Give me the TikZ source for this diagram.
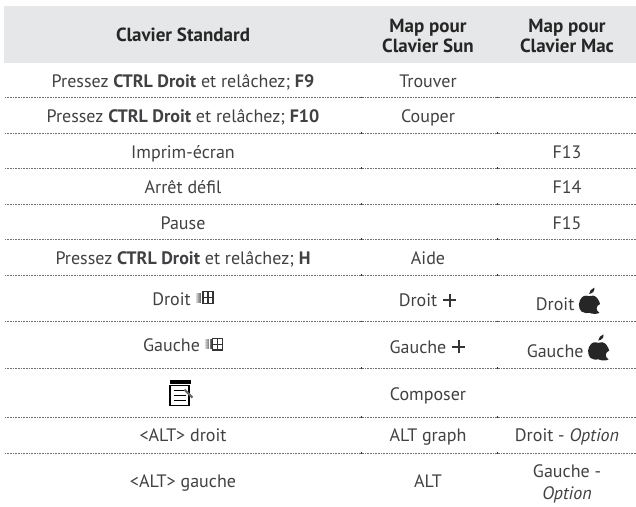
\documentclass[tikz,border=0pt]{standalone}
\usepackage{fontspec}
\setmainfont{PT Sans}
\definecolor{txt}{HTML}{414042}
\definecolor{hdr}{HTML}{E6E7E8}
\definecolor{rule}{HTML}{6D6E71}
\tikzset{
  x=1pt,y=-1pt,
  cell/.style={font=\fontsize{18}{22}\selectfont,text=txt,inner sep=0pt,align=center},
  line/.style={cell,anchor=base},
  head/.style={font=\fontsize{19}{20.6}\selectfont\bfseries,text=black!85,inner sep=0pt,align=center},
  rowline/.style={draw=rule,line width=0.8pt,dash pattern=on 0.9pt off 0.7pt},
  band/.style={fill=hdr,draw=none},
  tick/.style={fill=black!80,draw=none}
}
\newcommand{\winkey}{\tikz[x=1pt,y=1pt,baseline=-1pt]{\foreach \i/\c in {0/15,1.2/25,2.4/35,3.6/45,4.8/55,6/70}{\fill[black!\c] (\i,1.5) rectangle ++(1.1,10);}\draw[black!80,line width=1.2pt] (7.5,0.7) rectangle (17.5,12.5) (12.5,0.7)--(12.5,12.5) (7.5,6.6)--(17.5,6.6);}}
\newcommand{\plussign}{\tikz[x=1pt,y=1pt,baseline=0pt]{\draw[txt!80!black,line width=2.2pt] (0,6.5) -- (13,6.5) (6.5,0) -- (6.5,13);}}
\newcommand{\applekey}{\tikz[x=1.3pt,y=1.25pt,baseline=2pt]{\fill[black!85] (8,0) .. controls (6,-1) and (5,0) .. (4,0.2) .. controls (1,0) and (-1,6) .. (1,10) .. controls (3,14) and (5,14) .. (8,13.2) .. controls (10,14) and (12,14) .. (14,12) .. controls (15.5,10.5) and (16,8) .. (16.5,7) .. controls (13,5.5) and (13,1.5) .. (16,0) .. controls (14,-1.5) and (10,-1) .. (8,0) -- cycle;\fill[black!85] (8,15) .. controls (8,17.5) and (10,19) .. (12,20) .. controls (12.5,17.5) and (11,15.5) .. (8,15) -- cycle;}}
\begin{document}
\begin{tikzpicture}
\useasboundingbox (0,0) rectangle (636,506);
\path[band] (4,6) rectangle (636,62.5);
\node[head,anchor=base] (h1) at (183,41.7) {Clavier Standard};
\node[head] (h2) at (428,36) {Map pour\\Clavier Sun};
\node[head] (h3) at (567,36) {Map pour\\Clavier Mac};
\foreach \yy in {97.5,133,168,204,239,275,321.7,368,417,453}{
  \path[rowline] (5,\yy) -- (636,\yy);
  \path[tick] (360.8,\yy-0.6) rectangle ++(1.4,1.2);
  \path[tick] (496.8,\yy-0.6) rectangle ++(1.4,1.2);
}
\node[line] (a1) at (183,87.3) {Pressez \textbf{CTRL Droit} et relâchez; \textbf{F9}};
\node[line] (b1) at (428,87.3) {Trouver};
\node[line] (a2) at (183,122.5) {Pressez \textbf{CTRL Droit} et relâchez; \textbf{F10}};
\node[line] (b2) at (428,122.5) {Couper};
\node[line] (a3) at (183,158) {Imprim-écran};
\node[line] (c3) at (567,158) {F13};
\node[line] (a4) at (183,193.5) {Arrêt défil};
\node[line] (c4) at (567,193.5) {F14};
\node[line] (a5) at (183,229) {Pause};
\node[line] (c5) at (567,229) {F15};
\node[line] (a6) at (183,264) {Pressez \textbf{CTRL Droit} et relâchez; \textbf{H}};
\node[line] (b6) at (428,264) {Aide};
\node[line] (a7) at (183,305) {Droit \winkey};
\node[line] (b7) at (428,306.7) {Droit \plussign};
\node[line] (c7) at (568,310.7) {Droit\,\applekey};
\node[line] (a8) at (183,351.7) {Gauche \winkey};
\node[line] (b8) at (428,353.3) {Gauche \plussign};
\node[line] (c8) at (568,357.3) {Gauche\,\applekey};
\node[inner sep=0pt] (a9) at (181.5,393) {\tikz[x=1pt,y=-1pt]{\fill[black] (0,0) rectangle (21,4);\draw[black,line width=1.5pt] (0.7,6) rectangle (19.5,26);\draw[black,line width=1.2pt] (4,10.5) -- (15,10.5) (4,15.5) -- (16,15.5) (4,20.5) -- (16,20.5);\draw[black!60,line width=2pt] (15,10) -- (23,18);}};
\node[line] (b9) at (428,400) {Composer};
\node[line] (a10) at (183,441.7) {<ALT> droit};
\node[line] (b10) at (428,441.7) {ALT graph};
\node[line] (c10) at (567,441.7) {Droit - \textit{Option}};
\node[line] (a11) at (183,487.7) {<ALT> gauche};
\node[line] (b11) at (428,487.7) {ALT};
\node[cell] (c11) at (567,484) {Gauche -\\\textit{Option}};
\end{tikzpicture}
\end{document}
